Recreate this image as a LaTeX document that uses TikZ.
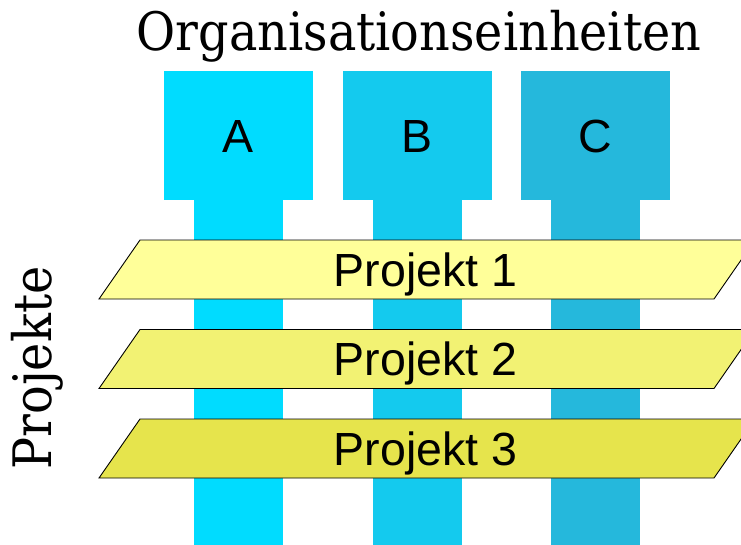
\documentclass[tikz,border=0pt]{standalone}
\usepackage{fontspec}
\setmainfont{Liberation Sans}
\newfontfamily\titlefont{DejaVu Serif Condensed}
\begin{document}
\begin{tikzpicture}[x=1pt,y=-1pt,
  unitbox/.style={fill=#1,draw=none},
  projband/.style={fill=#1,draw=black,line width=0.9pt,line join=miter},
  lbl/.style={font=\fontsize{46.5}{50}\selectfont,inner sep=0pt},
  headlbl/.style={font=\titlefont\fontsize{53}{56}\selectfont,inner sep=0pt}]
\definecolor{colA}{RGB}{0,220,255}
\definecolor{colB}{RGB}{20,202,238}
\definecolor{colC}{RGB}{37,184,220}
\definecolor{proj1}{RGB}{255,255,153}
\definecolor{proj2}{RGB}{242,242,115}
\definecolor{proj3}{RGB}{230,228,76}
\useasboundingbox (0,0) rectangle (741,544);
\begin{scope}
\clip (0,0) rectangle (741,544);
% organisational units: head box with a stem running down
\foreach \x/\c/\n in {164/colA/A,343/colB/B,521/colC/C}{
  \fill[unitbox=\c] (\x,71) rectangle ++(149,129);
  \fill[unitbox=\c] (\x+30,199) rectangle ++(89,346);
  \node[lbl,anchor=base] (unit\n) at (\x+74.5,152) {\n};
}
% project bands
\foreach \y/\c/\n in {240/proj1/1,329.5/proj2/2,419/proj3/3}{
  \draw[projband=\c] (140,\y) -- (755,\y) -- (714,\y+59) -- (99,\y+59) -- cycle;
  \node[lbl,anchor=base] (proj\n) at (425.5,\y+46) {Projekt \n};
}
\end{scope}
\node[headlbl] (title) at (419,36) {Organisationseinheiten};
\node[headlbl,rotate=90] (side) at (37,368) {Projekte};
\end{tikzpicture}
\end{document}
